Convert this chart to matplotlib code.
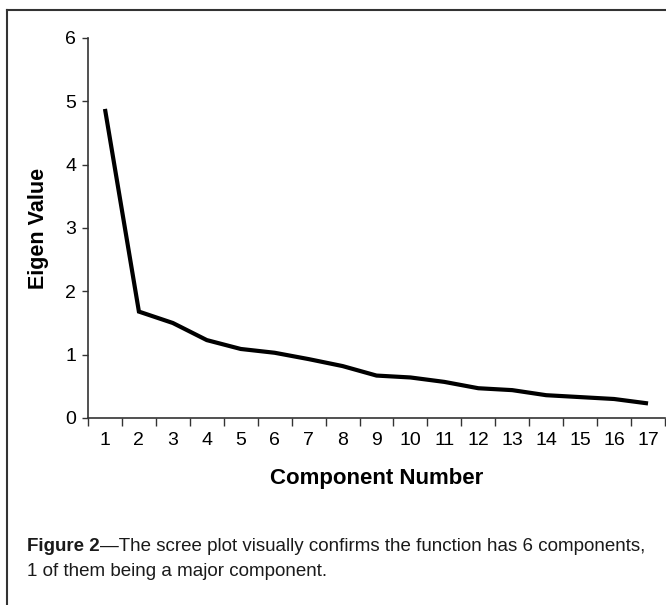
import matplotlib.pyplot as plt
from matplotlib.lines import Line2D
import numpy as np

components = np.arange(1, 18)
eigen_values = [4.88, 1.68, 1.50, 1.23, 1.09, 1.03, 0.93, 0.82, 0.67,
                0.64, 0.57, 0.47, 0.44, 0.36, 0.33, 0.30, 0.23]
y_ticks = [0, 1, 2, 3, 4, 5, 6]

plt.rcParams["font.family"] = ["Liberation Sans", "DejaVu Sans"]

W, H = 666, 605
fig = plt.figure(figsize=(W / 100, H / 100), dpi=100)
ax = fig.add_axes([88 / W, 1 - 418 / H, 577 / W, 380 / H])

ax.plot(components, eigen_values, color="black", linewidth=3.0,
        solid_capstyle="butt", solid_joinstyle="miter")

ax.set_xlim(0.5, 17.5)
ax.set_ylim(0, 6)
ax.set_yticks(y_ticks)
# ticks sit between categories, labels in the middle
ax.set_xticks(np.arange(0.5, 18, 1.0))
ax.set_xticklabels([])
ax.set_xticks(components, minor=True)
ax.set_xticklabels([str(c) for c in components], minor=True)

ax.tick_params(axis="x", which="major", direction="out", length=6, width=1, color="#333333")
ax.tick_params(axis="x", which="minor", length=0, pad=10, labelsize=14)
ax.tick_params(axis="y", direction="out", length=4.5, width=1, color="#333333",
               labelsize=14, pad=4)

for side in ("top", "right"):
    ax.spines[side].set_visible(False)
for side in ("left", "bottom"):
    ax.spines[side].set_color("#333333")
    ax.spines[side].set_linewidth(1.2)

ax.set_xlabel("Component Number", fontsize=16, fontweight="bold", labelpad=14)
ax.set_ylabel("Eigen Value", fontsize=15.5, fontweight="bold", labelpad=12)

# caption
cap_size = 13.5
base1 = 1 - 551 / H
base2 = 1 - 576 / H
bold_part = fig.text(27 / W, base1, "Figure 2", fontsize=cap_size, fontweight="bold",
                     va="baseline", color="#1a1a1a")
fig.canvas.draw()
bb = bold_part.get_window_extent()
fig.text(bb.x1 / W, base1,
         "\u2014The scree plot visually confirms the function has 6 components,",
         fontsize=cap_size, va="baseline", color="#1a1a1a")
fig.text(27 / W, base2, "1 of them being a major component.",
         fontsize=cap_size, va="baseline", color="#1a1a1a")

# frame lines (top and left)
fig.add_artist(Line2D([7 / W, 1], [1 - 10 / H, 1 - 10 / H],
                      transform=fig.transFigure, color="#333333", linewidth=1.5))
fig.add_artist(Line2D([7 / W, 7 / W], [0, 1 - 10 / H],
                      transform=fig.transFigure, color="#333333", linewidth=1.5))

fig.savefig("out.png", dpi=100)
